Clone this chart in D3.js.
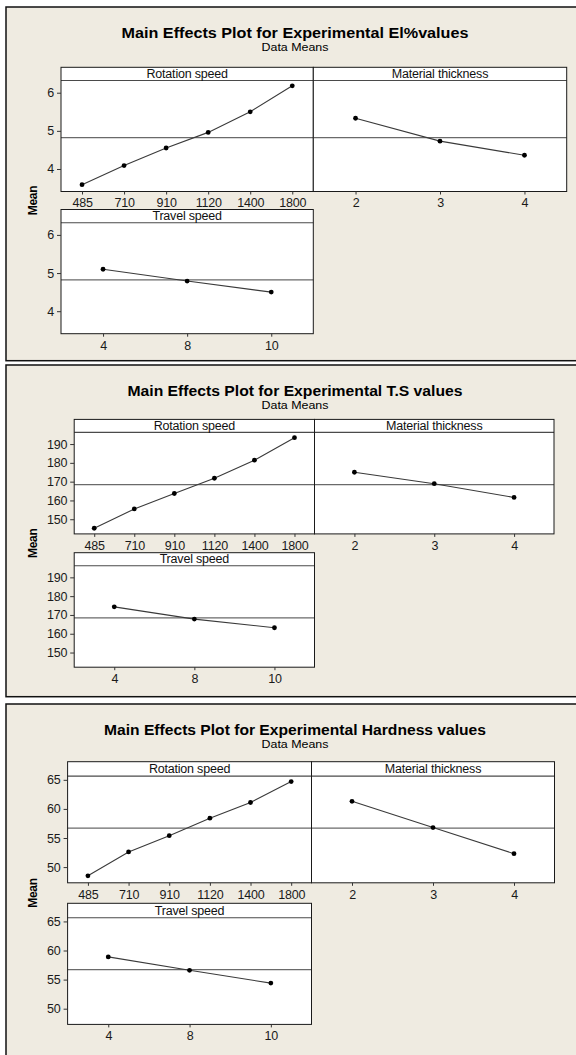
<!DOCTYPE html>
<html>
<head>
<meta charset="utf-8">
<script src="https://cdn.jsdelivr.net/npm/d3@7"></script>
<style>
  html, body { margin: 0; padding: 0; background: #ffffff; }
  svg { display: block; font-family: "Liberation Sans", Arial, sans-serif; }
</style>
</head>
<body>
<svg id="chart" width="576" height="1055"></svg>
<script>
// Factor levels
const rotationLevels = ["485", "710", "910", "1120", "1400", "1800"];
const thicknessLevels = ["2", "3", "4"];
const travelLevels = ["4", "8", "10"];

// Elongation (El%) data means
const elRotation = [3.59, 4.09, 4.55, 4.96, 5.50, 6.18];
const elThickness = [5.33, 4.73, 4.36];
const elTravel = [5.10, 4.79, 4.50];
const elGrandMean = 4.82;
const elTicks = [4, 5, 6];

// Tensile strength (T.S) data means
const tsRotation = [145.2, 155.5, 163.7, 171.8, 181.4, 193.4];
const tsThickness = [175.0, 168.9, 161.6];
const tsTravel = [174.3, 167.8, 163.2];
const tsGrandMean = 168.4;
const tsTicks = [150, 160, 170, 180, 190];

// Hardness data means
const hdRotation = [48.5, 52.6, 55.4, 58.4, 61.1, 64.7];
const hdThickness = [61.3, 56.8, 52.3];
const hdTravel = [58.9, 56.6, 54.4];
const hdGrandMean = 56.7;
const hdTicks = [50, 55, 60, 65];

// Text
const plotTitles = [
  "Main Effects Plot for Experimental El%values",
  "Main Effects Plot for Experimental T.S values",
  "Main Effects Plot for Experimental Hardness values"
];
const subTitle = "Data Means";
const factorNames = ["Rotation speed", "Material thickness", "Travel speed"];
const yLabel = "Mean";

// Series per plot
const plots = [
  { rotation: elRotation, thickness: elThickness, travel: elTravel, mean: elGrandMean, ticks: elTicks },
  { rotation: tsRotation, thickness: tsThickness, travel: tsTravel, mean: tsGrandMean, ticks: tsTicks },
  { rotation: hdRotation, thickness: hdThickness, travel: hdTravel, mean: hdGrandMean, ticks: hdTicks }
];

// Frame geometry of each plot
const frames = [
  { boxTop: 7,   boxBottom: 360.7, left: 61,   mid: 313.3, right: 566.7, row1: 67.3,  row2: 209.5, stripH: 13.2, dataH: 111,   domain: [3.41, 6.32],   titleLen: 347 },
  { boxTop: 365, boxBottom: 696.7, left: 74.2, mid: 314.5, right: 554,   row1: 419.4, row2: 552.7, stripH: 13,   dataH: 101.5, domain: [142.2, 196.2], titleLen: 335 },
  { boxTop: 704, boxBottom: 1070,  left: 67.6, mid: 311.5, right: 554.5, row1: 761.7, row2: 903.3, stripH: 14.4, dataH: 106.7, domain: [47.3, 65.64],  titleLen: 382 }
];

const svg = d3.select("#chart");
const titleX = 295;
const tickFmt = d3.format("~g");

function drawFacet(g, x0, x1, top, f, name, levels, values, mean, ticks, withYAxis) {
  const dataTop = top + f.stripH;
  const dataBottom = dataTop + f.dataH;
  const x = d3.scalePoint().domain(levels).range([x0, x1]).padding(0.5);
  const y = d3.scaleLinear().domain(f.domain).range([dataBottom, dataTop]);

  g.append("rect")
    .attr("x", x0).attr("y", top)
    .attr("width", x1 - x0).attr("height", dataBottom - top)
    .attr("fill", "#ffffff");

  // grand mean reference line
  g.append("line")
    .attr("x1", x0).attr("x2", x1)
    .attr("y1", y(mean)).attr("y2", y(mean))
    .attr("stroke", "#6a6a6a").attr("stroke-width", 1.3);

  const pts = levels.map((l, i) => [x(l), y(values[i])]);
  g.append("path")
    .attr("d", d3.line()(pts))
    .attr("fill", "none")
    .attr("stroke", "#3a3a3a").attr("stroke-width", 1.1);

  g.selectAll(null).data(pts).enter().append("circle")
    .attr("cx", d => d[0]).attr("cy", d => d[1])
    .attr("r", 2.4).attr("fill", "#000000");

  // facet strip
  g.append("line")
    .attr("x1", x0).attr("x2", x1)
    .attr("y1", dataTop).attr("y2", dataTop)
    .attr("stroke", "#4a4a4a").attr("stroke-width", 1.1);
  g.append("text")
    .attr("x", (x0 + x1) / 2).attr("y", dataTop - 2.8)
    .attr("text-anchor", "middle")
    .attr("font-size", 12.5).attr("fill", "#111")
    .attr("letter-spacing", -0.2)
    .text(name);

  // border
  g.append("rect")
    .attr("x", x0).attr("y", top)
    .attr("width", x1 - x0).attr("height", dataBottom - top)
    .attr("fill", "none").attr("stroke", "#1a1a1a").attr("stroke-width", 1);

  // axes
  const xa = g.append("g")
    .attr("transform", `translate(0,${dataBottom})`)
    .call(d3.axisBottom(x).tickSize(3).tickSizeOuter(0).tickPadding(4));
  xa.select(".domain").remove();
  styleAxis(xa);

  if (withYAxis) {
    const ya = g.append("g")
      .attr("transform", `translate(${x0},0)`)
      .call(d3.axisLeft(y).tickValues(ticks).tickFormat(tickFmt).tickSize(4).tickSizeOuter(0).tickPadding(3));
    ya.select(".domain").remove();
    styleAxis(ya);
  }
}

function styleAxis(a) {
  a.attr("font-family", null).attr("font-size", null);
  a.selectAll(".tick line").attr("stroke", "#333");
  a.selectAll(".tick text").attr("font-size", 12.5).attr("fill", "#1a1a1a").attr("letter-spacing", -0.2);
}

plots.forEach((p, i) => {
  const f = frames[i];
  const g = svg.append("g");

  // plot background frame
  g.append("rect")
    .attr("x", 6).attr("y", f.boxTop)
    .attr("width", 580).attr("height", f.boxBottom - f.boxTop)
    .attr("fill", "#efebe1").attr("stroke", "#111").attr("stroke-width", 1.5);

  g.append("text")
    .attr("x", titleX).attr("y", f.boxTop + 30.5)
    .attr("text-anchor", "middle")
    .attr("font-size", 14.5).attr("font-weight", "bold").attr("fill", "#000")
    .attr("textLength", f.titleLen).attr("lengthAdjust", "spacingAndGlyphs")
    .text(plotTitles[i]);
  g.append("text")
    .attr("x", titleX).attr("y", f.boxTop + 44)
    .attr("text-anchor", "middle")
    .attr("font-size", 11.5).attr("fill", "#000")
    .attr("textLength", 67).attr("lengthAdjust", "spacingAndGlyphs")
    .text(subTitle);

  drawFacet(g, f.left, f.mid, f.row1, f, factorNames[0], rotationLevels, p.rotation, p.mean, p.ticks, true);
  drawFacet(g, f.mid, f.right, f.row1, f, factorNames[1], thicknessLevels, p.thickness, p.mean, p.ticks, false);
  drawFacet(g, f.left, f.mid, f.row2, f, factorNames[2], travelLevels, p.travel, p.mean, p.ticks, true);

  const midY = (f.row1 + f.row2 + f.stripH + f.dataH) / 2;
  g.append("text")
    .attr("transform", `translate(36.5,${midY}) rotate(-90)`)
    .attr("text-anchor", "middle")
    .attr("font-size", 12).attr("font-weight", "bold").attr("fill", "#000")
    .attr("letter-spacing", -0.3)
    .text(yLabel);
});
</script>
</body>
</html>
